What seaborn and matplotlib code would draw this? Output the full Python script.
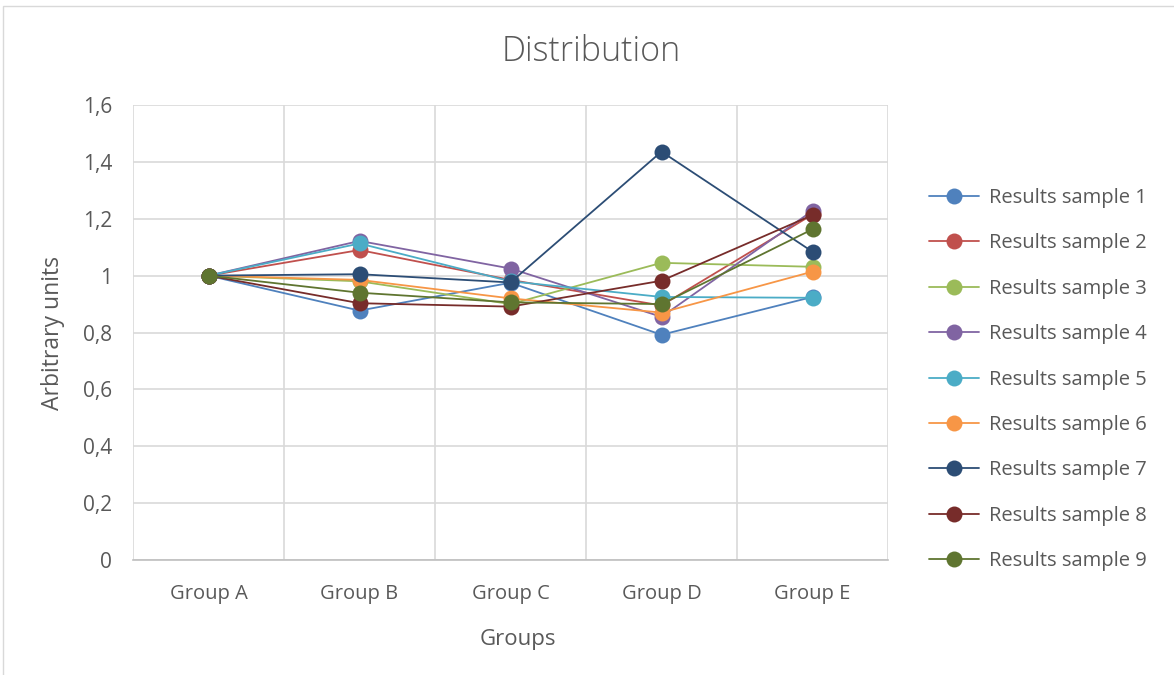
import matplotlib
matplotlib.use("Agg")
import matplotlib.pyplot as plt
import matplotlib.patches as mpatches
from matplotlib.lines import Line2D
import seaborn as sns
import pandas as pd

groups = ["Group A", "Group B", "Group C", "Group D", "Group E"]

sample_1 = [1.0, 0.877, 0.975, 0.792, 0.925]
sample_2 = [1.0, 1.090, 0.985, 0.895, 1.215]
sample_3 = [1.0, 0.980, 0.900, 1.045, 1.031]
sample_4 = [1.0, 1.122, 1.025, 0.855, 1.228]
sample_5 = [1.0, 1.113, 0.980, 0.925, 0.922]
sample_6 = [1.0, 0.985, 0.920, 0.870, 1.014]
sample_7 = [1.0, 1.005, 0.976, 1.436, 1.084]
sample_8 = [1.0, 0.903, 0.891, 0.982, 1.213]
sample_9 = [1.0, 0.940, 0.906, 0.900, 1.163]

series_names = [f"Results sample {i}" for i in range(1, 10)]
series_values = [sample_1, sample_2, sample_3, sample_4, sample_5,
                 sample_6, sample_7, sample_8, sample_9]
colors = ["#4F81BD", "#C0504D", "#9BBB59", "#8064A2", "#4BACC6",
          "#F79646", "#2C4D75", "#772C2A", "#5F7530"]

y_ticks = [0, 0.2, 0.4, 0.6, 0.8, 1.0, 1.2, 1.4, 1.6]
y_tick_labels = ["0", "0,2", "0,4", "0,6", "0,8", "1", "1,2", "1,4", "1,6"]

rows = []
for name, vals in zip(series_names, series_values):
    for i, (g, v) in enumerate(zip(groups, vals)):
        rows.append({"series": name, "group": g, "pos": i, "value": v})
df = pd.DataFrame(rows)

sns.set_theme(style="white")
plt.rcParams["font.family"] = ["Open Sans", "DejaVu Sans"]
text_color = "#595959"

W, H = 1174, 675
fig = plt.figure(figsize=(W / 100, H / 100), dpi=100)
fig.patch.set_facecolor("white")

# chart-area border (left and top edges visible)
fig.add_artist(mpatches.Rectangle((3 / W, -0.1), 1.2, (H - 6) / H + 0.1,
                                  transform=fig.transFigure, fill=False,
                                  edgecolor="#D9D9D9", linewidth=1.0))

ax = fig.add_axes([133 / W, (H - 560) / H, 755 / W, 455 / H])

MS = 11.5
LW = 1.3
sns.lineplot(data=df, x="pos", y="value", hue="series", palette=colors,
             hue_order=series_names, marker="o", markersize=MS,
             markeredgewidth=0, linewidth=LW, sort=False, ax=ax,
             legend=False, zorder=3)

ax.set_xlim(-0.5, 4.5)
ax.set_ylim(0, 1.6)

ax.set_xticks(range(len(groups)))
ax.set_xticklabels(groups)
ax.set_xticks([i - 0.5 for i in range(len(groups) + 1)], minor=True)
ax.set_yticks(y_ticks)
ax.set_yticklabels(y_tick_labels)

ax.tick_params(axis="x", which="major", length=0, pad=17, labelsize=14.5, labelcolor=text_color)
ax.tick_params(axis="x", which="minor", length=6, width=1, color="#BFBFBF", direction="out")
ax.tick_params(axis="y", which="major", length=0, pad=15, labelsize=15, labelcolor=text_color)

ax.grid(False)
ax.yaxis.grid(True, color="#D9D9D9", linewidth=1.2)
ax.xaxis.grid(True, which="minor", color="#D9D9D9", linewidth=1.2)
ax.set_axisbelow(True)

for side in ["top", "right", "left"]:
    ax.spines[side].set_visible(False)
ax.spines["bottom"].set_color("#BFBFBF")
ax.spines["bottom"].set_linewidth(1.2)

ax.set_xlabel("Groups", fontsize=16, color=text_color)
ax.xaxis.set_label_coords(0.51, -0.152)
ax.set_ylabel("Arbitrary units", fontsize=16.5, color=text_color, labelpad=13)

fig.text(591 / W, 1 - 52 / H, "Distribution", ha="center", va="center",
         fontsize=24.5, color=text_color, fontweight="light")

handles = [Line2D([0], [0], color=c, marker="o", markersize=MS,
                  markeredgewidth=0, linewidth=LW) for c in colors]
leg = fig.legend(handles, series_names, loc="upper left",
                 bbox_to_anchor=(911 / W, 1 - 170 / H), frameon=False,
                 fontsize=14.5, handlelength=2.5, handletextpad=0.45,
                 labelspacing=1.26, labelcolor=text_color)

fig.savefig("out.png", dpi=100, facecolor="white")
